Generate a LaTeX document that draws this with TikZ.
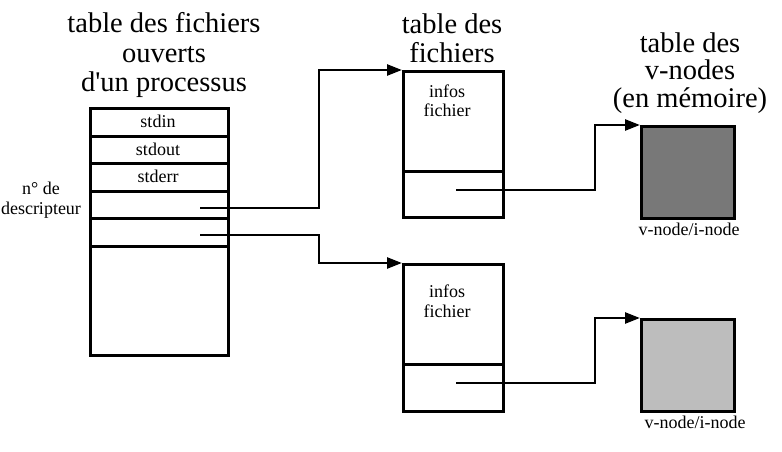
\documentclass[tikz,border=0pt]{standalone}
\usepackage{fontspec}
\setmainfont{Liberation Serif}
\usetikzlibrary{arrows.meta}
\definecolor{darkv}{HTML}{787878}
\definecolor{lightv}{HTML}{BDBDBD}
\begin{document}
\begin{tikzpicture}[x=1pt,y=-1pt,
  box/.style={draw, line width=2.8pt, inner sep=0pt, anchor=north west},
  arr/.style={line width=2.6pt, -{Triangle[length=15pt,width=11pt]}},
  big/.style={font=\fontsize{28.5}{29.5}\selectfont, align=center, anchor=base, inner sep=0pt},
  small/.style={font=\fontsize{18}{20}\selectfont, align=center, anchor=base, inner sep=0pt}]
\fill[white] (0,0) rectangle (782,452);
\useasboundingbox (0,0) rectangle (782,452);

% titles (anchor = baseline of last line)
\node[big] (t1) at (164,92) {table des fichiers\\ouverts\\d\textquotesingle un processus};
\node[big] (t2) at (452,63) {table des\\fichiers};
\node[big, font=\fontsize{28.5}{27.5}\selectfont] (t3) at (690,107) {table des\\v-nodes\\(en mémoire)};

% process file descriptor table
\node[box, minimum width=138pt, minimum height=28pt] (r1) at (89,107) {};
\node[box, minimum width=138pt, minimum height=27pt] (r2) at (89,135) {};
\node[box, minimum width=138pt, minimum height=28pt] (r3) at (89,162) {};
\node[box, minimum width=138pt, minimum height=27pt] (r4) at (89,190) {};
\node[box, minimum width=138pt, minimum height=28pt] (r5) at (89,217) {};
\node[box, minimum width=138pt, minimum height=109pt] (r6) at (89,245) {};
\node[small] (l1) at (158,128) {stdin};
\node[small] (l2) at (158,155) {stdout};
\node[small] (l3) at (158,182) {stderr};
\node[small] (nd) at (41,214) {n° de\\descripteur};

% file table
\node[box, minimum width=100pt, minimum height=100pt] (f1a) at (402,70) {};
\node[box, minimum width=100pt, minimum height=46pt] (f1b) at (402,170) {};
\node[box, minimum width=100pt, minimum height=100pt] (f2a) at (402,263) {};
\node[box, minimum width=100pt, minimum height=47pt] (f2b) at (402,363) {};
\node[small] (i1) at (447,117) {infos\\fichier};
\node[small] (i2) at (447,317) {infos\\fichier};

% v-nodes
\node[box, fill=darkv, minimum width=93pt, minimum height=92pt] (v1) at (640,125) {};
\node[box, fill=lightv, minimum width=93pt, minimum height=92pt] (v2) at (640,318) {};
\node[small] (vl1) at (689,235) {v-node/i-node};
\node[small] (vl2) at (695,428) {v-node/i-node};

% connectors
\coordinate (p1) at (200,208);
\coordinate (p2) at (200,235);
\coordinate (q1) at (456,190);
\coordinate (q2) at (456,383);
\draw[arr] (p1) -- ++(119,0) |- (f1a.north west);
\draw[arr] (p2) -- ++(119,0) |- (f2a.north west);
\draw[arr] (q1) -- ++(139,0) |- (v1.north west);
\draw[arr] (q2) -- ++(139,0) |- (v2.north west);
\end{tikzpicture}
\end{document}
